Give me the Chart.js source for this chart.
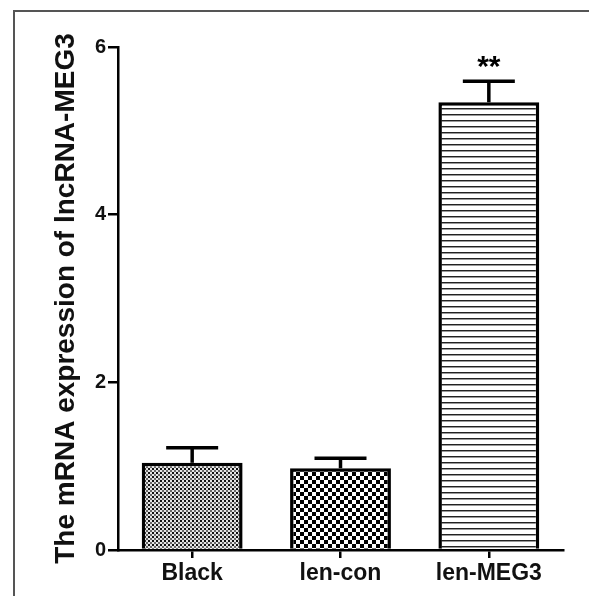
<!DOCTYPE html>
<html>
<head>
<meta charset="utf-8">
<script src="https://cdn.jsdelivr.net/npm/chart.js@4/dist/chart.umd.min.js"></script>
<style>
  html, body { margin: 0; padding: 0; background: #fff; }
  body { width: 589px; height: 596px; position: relative; overflow: hidden; }
  #frame { position: absolute; left: 13px; top: 10px; right: -10px; bottom: -10px;
           border-left: 2px solid #555; border-top: 2px solid #555; }
  #wrap { position: absolute; left: 0; top: 0; width: 589px; height: 596px; }
</style>
</head>
<body>
<div id="frame"></div>
<div id="wrap"><canvas id="c" width="589" height="596"></canvas></div>
<script>
const categories = ["Black", "len-con", "len-MEG3"];
const means = [1.04, 0.975, 5.34];
const errors = [0.18, 0.12, 0.25];
const significance = ["", "", "**"];
const yTicks = [0, 2, 4, 6];
const yTitle = "The mRNA expression of lncRNA-MEG3";

function makePattern(size, draw) {
  const c = document.createElement('canvas');
  c.width = size[0]; c.height = size[1];
  const g = c.getContext('2d');
  draw(g);
  return document.getElementById('c').getContext('2d').createPattern(c, 'repeat');
}
// fine dotted pattern
const patFine = makePattern([4, 4], g => {
  g.fillStyle = '#e4e4e4'; g.fillRect(0, 0, 4, 4);
  g.fillStyle = '#111'; g.fillRect(0, 0, 2, 2);
  g.fillStyle = '#666'; g.fillRect(2, 2, 2, 2);
});
// coarse checkerboard
const patChecker = makePattern([8, 8], g => {
  g.fillStyle = '#fff'; g.fillRect(0, 0, 8, 8);
  g.fillStyle = '#000'; g.fillRect(0, 0, 4, 4); g.fillRect(4, 4, 4, 4);
});
// horizontal lines
const patLines = makePattern([6, 6], g => {
  g.fillStyle = '#fff'; g.fillRect(0, 0, 6, 6);
  g.fillStyle = '#222'; g.fillRect(0, 0, 6, 1);
  g.fillStyle = '#999'; g.fillRect(0, 1, 6, 1);
});
const patterns = [patFine, patChecker, patLines];

const FONT = "'Liberation Sans', Arial, sans-serif";

const errorBarPlugin = {
  id: 'errorBars',
  afterDatasetsDraw(chart) {
    const ctx = chart.ctx;
    const meta = chart.getDatasetMeta(0);
    const yScale = chart.scales.y;
    ctx.save();
    ctx.strokeStyle = '#000';
    ctx.lineWidth = 3.5;
    ctx.lineCap = 'butt';
    meta.data.forEach((bar, i) => {
      const yTop = yScale.getPixelForValue(means[i] + errors[i]);
      const yBar = yScale.getPixelForValue(means[i]);
      const half = 26;
      ctx.beginPath();
      ctx.moveTo(bar.x, yBar);
      ctx.lineTo(bar.x, yTop);
      ctx.stroke();
      ctx.beginPath();
      ctx.moveTo(bar.x - half, yTop);
      ctx.lineTo(bar.x + half, yTop);
      ctx.stroke();
      if (significance[i]) {
        ctx.fillStyle = '#000';
        ctx.font = "bold 30px " + FONT;
        ctx.textAlign = 'center';
        ctx.textBaseline = 'middle';
        ctx.fillText(significance[i], bar.x, yTop - 14);
      }
    });
    ctx.restore();
  }
};

new Chart(document.getElementById('c'), {
  type: 'bar',
  data: {
    labels: categories,
    datasets: [{
      data: means,
      backgroundColor: patterns,
      borderColor: '#000',
      borderWidth: 3.5,
      borderSkipped: 'bottom',
      barPercentage: 0.68,
      categoryPercentage: 1.0
    }]
  },
  options: {
    responsive: false,
    animation: false,
    events: [],
    layout: { padding: { left: 0, top: 47, right: 26, bottom: 0 } },
    plugins: { legend: { display: false }, tooltip: { enabled: false } },
    scales: {
      x: {
        offset: true,
        afterFit(s) { s.height = 46; },
        grid: { display: true, drawOnChartArea: false, drawTicks: true, tickLength: 8,
                color: '#000', lineWidth: 2.5, offset: false },
        border: { display: true, color: '#000', width: 2.5 },
        ticks: { color: '#111', padding: 2, font: { family: FONT, size: 23, weight: 'bold' } }
      },
      y: {
        min: 0, max: 6,
        afterFit(s) { s.width = 118; },
        afterBuildTicks(s) { s.ticks = yTicks.map(v => ({ value: v })); },
        grid: { display: true, drawOnChartArea: false, drawTicks: true, tickLength: 10,
                color: '#000', lineWidth: 2.5 },
        border: { display: true, color: '#000', width: 2.5 },
        ticks: { color: '#111', padding: 2, font: { family: FONT, size: 20, weight: 'bold' } },
        title: { display: true, text: yTitle, color: '#111',
                 font: { family: FONT, size: 28, weight: 'bold', lineHeight: 1 },
                 padding: { top: 52, bottom: 0 } }
      }
    }
  },
  plugins: [errorBarPlugin]
});
</script>
</body>
</html>
